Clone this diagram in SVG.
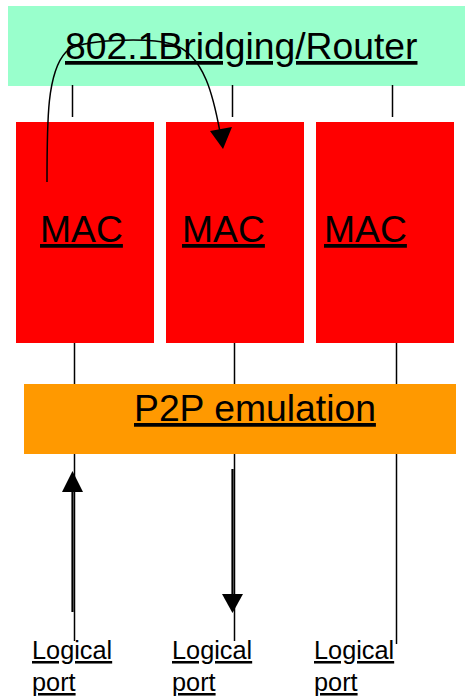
<svg xmlns="http://www.w3.org/2000/svg" width="465" height="698" viewBox="0 0 465 698">
<style>
text{font-family:"Liberation Sans",Arial,sans-serif;fill:#000;text-decoration:underline}
.big{font-size:37.3px}
.small{font-size:25.3px}
.ln{stroke:#000;stroke-width:1.5;fill:none}
.arr{stroke:#000;stroke-width:2.2;fill:none}
</style>
<rect width="465" height="698" fill="#fff"/>
<g id="bridge">
<rect x="8" y="6" width="457" height="80" fill="#99FFCC"/>
<text class="big" x="65" y="59">802.1Bridging/Router</text>
</g>
<g id="mac1">
<rect x="16" y="122" width="138" height="221" fill="#FF0000"/>
<text class="big" x="40" y="242">MAC</text>
</g>
<g id="mac2">
<rect x="166" y="122" width="138" height="221" fill="#FF0000"/>
<text class="big" x="182" y="242">MAC</text>
</g>
<g id="mac3">
<rect x="316" y="122" width="138" height="221" fill="#FF0000"/>
<text class="big" x="324" y="242">MAC</text>
</g>
<g id="p2p">
<rect x="24" y="384" width="432" height="70" fill="#FF9900"/>
<text class="big" x="134" y="421">P2P emulation</text>
</g>
<g id="port1"><text class="small" x="32" y="659">Logical</text><text class="small" x="32" y="691">port</text></g>
<g id="port2"><text class="small" x="172" y="659">Logical</text><text class="small" x="172" y="691">port</text></g>
<g id="port3"><text class="small" x="314" y="659">Logical</text><text class="small" x="314" y="691">port</text></g>
<g id="connectors">
<line class="ln" x1="72.5" y1="85" x2="72.5" y2="117"/>
<line class="ln" x1="232.5" y1="85" x2="232.5" y2="117"/>
<line class="ln" x1="392.5" y1="85" x2="392.5" y2="117"/>
<line class="ln" x1="74.5" y1="343" x2="74.5" y2="384"/>
<line class="ln" x1="234.5" y1="343" x2="234.5" y2="384"/>
<line class="ln" x1="396.5" y1="343" x2="396.5" y2="384"/>
<line class="ln" x1="74.5" y1="454" x2="74.5" y2="641"/>
<line class="ln" x1="234.5" y1="454" x2="234.5" y2="641"/>
<line class="ln" x1="396.5" y1="454" x2="396.5" y2="644"/>
<line class="arr" x1="72.5" y1="490" x2="72.5" y2="612"/>
<polygon points="72.5,471 62,492 83,492" fill="#000"/>
<line class="arr" x1="232.5" y1="469" x2="232.5" y2="596"/>
<polygon points="232.5,613 222,594 243,594" fill="#000"/>
<path class="ln" d="M47,182 C47,120 47,72 66,52 C80,38 150,38 172,44 C205,54 214,100 220,132"/>
<polygon points="223,149 210,131 232,127" fill="#000"/>
</g>
</svg>
